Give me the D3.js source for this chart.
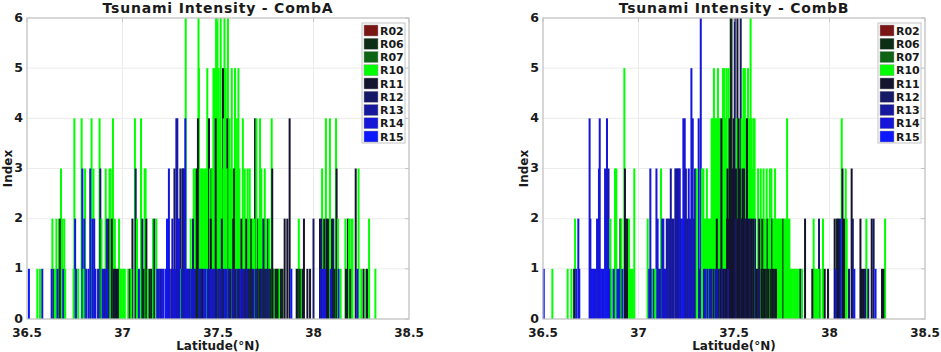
<!DOCTYPE html>
<html>
<head>
<meta charset="utf-8">
<script src="https://cdn.jsdelivr.net/npm/d3@7"></script>
<style>
  body { margin: 0; background: #fff; }
  svg text { font-family: "DejaVu Sans", sans-serif; font-weight: bold; fill: #1a1a1a; }
</style>
</head>
<body>
<svg id="chart" width="941" height="352"></svg>
<script>
// regions shown in the legend
const regions = ["R02", "R06", "R07", "R10", "R11", "R12", "R13", "R14", "R15"];
const regionColors = ["#7a1616", "#0c2e14", "#0e6414", "#00ff00", "#14142e", "#161a66", "#16189e", "#1616da", "#0c18ff"];

const xTicks = [36.5, 37, 37.5, 38, 38.5];
const yTicks = [0, 1, 2, 3, 4, 5, 6];

// [latitude, index, region]
const combA = [
  [36.510,1,"R15"],[36.554,1,"R10"],[36.568,1,"R10"],[36.580,1,"R14"],
  [36.629,1,"R14"],[36.633,2,"R10"],[36.640,1,"R13"],[36.646,1,"R10"],[36.654,2,"R10"],[36.660,1,"R14"],
  [36.668,2,"R10"],[36.672,2,"R06"],[36.678,3,"R10"],[36.684,2,"R10"],[36.690,1,"R14"],[36.695,2,"R10"],[36.700,1,"R10"],
  [36.744,1,"R10"],[36.748,4,"R10"],[36.752,2,"R14"],[36.758,1,"R14"],[36.768,1,"R10"],
  [36.786,4,"R10"],[36.790,3,"R14"],[36.796,1,"R10"],[36.800,2,"R14"],[36.804,3,"R10"],[36.810,1,"R14"],
  [36.822,1,"R14"],[36.831,3,"R14"],[36.838,4,"R10"],[36.843,2,"R14"],[36.848,3,"R10"],[36.852,2,"R14"],[36.858,1,"R14"],
  [36.872,1,"R14"],[36.880,4,"R10"],[36.884,3,"R12"],[36.890,2,"R10"],[36.896,1,"R14"],[36.902,1,"R14"],[36.908,1,"R13"],
  [36.912,3,"R10"],[36.918,2,"R14"],[36.922,1,"R14"],[36.926,2,"R11"],[36.932,3,"R10"],[36.938,3,"R10"],[36.944,2,"R11"],
  [36.950,4,"R10"],[36.955,1,"R11"],[36.960,2,"R10"],[36.964,1,"R11"],[36.970,1,"R11"],[36.976,1,"R11"],[36.982,2,"R10"],
  [36.988,1,"R10"],[36.996,1,"R10"],[37.004,1,"R10"],[37.012,1,"R10"],
  [37.030,1,"R10"],[37.038,1,"R06"],[37.046,1,"R10"],[37.052,2,"R11"],[37.065,4,"R10"],[37.069,3,"R12"],[37.076,2,"R10"],
  [37.086,1,"R14"],[37.097,4,"R10"],[37.104,2,"R12"],[37.110,1,"R06"],[37.116,3,"R10"],[37.121,3,"R10"],[37.125,2,"R11"],
  [37.133,1,"R10"],[37.142,1,"R11"],[37.150,1,"R06"],[37.160,2,"R10"],[37.167,2,"R12"],[37.177,2,"R10"],
  [37.182,1,"R14"],[37.190,1,"R14"],[37.198,1,"R13"],[37.206,1,"R14"],[37.214,1,"R14"],
  [37.226,1,"R15"],[37.233,2,"R15"],[37.236,1,"R14"],[37.243,3,"R14"],[37.247,1,"R14"],[37.256,1,"R13"],[37.261,2,"R14"],
  [37.266,1,"R14"],[37.272,3,"R12"],[37.276,1,"R14"],[37.282,4,"R14"],[37.287,4,"R13"],[37.289,2,"R14"],[37.293,1,"R13"],
  [37.296,2,"R14"],[37.300,1,"R14"],[37.303,3,"R12"],[37.308,1,"R10"],[37.311,1,"R14"],[37.314,3,"R11"],[37.317,3,"R12"],
  [37.320,1,"R13"],[37.324,3,"R14"],[37.329,4,"R14"],[37.331,6,"R10"],[37.337,1,"R14"],[37.341,1,"R14"],[37.346,1,"R14"],
  [37.352,1,"R13"],[37.357,2,"R10"],[37.362,1,"R14"],[37.369,2,"R12"],[37.372,1,"R14"],
  [37.373,3,"R10"],[37.380,1,"R13"],[37.381,3,"R10"],[37.389,3,"R11"],[37.392,1,"R06"],[37.395,4,"R11"],[37.398,6,"R10"],
  [37.400,5,"R10"],[37.403,1,"R14"],[37.405,3,"R10"],[37.410,1,"R13"],[37.413,3,"R10"],[37.418,1,"R11"],[37.421,3,"R10"],
  [37.426,1,"R14"],[37.430,3,"R10"],[37.434,1,"R14"],[37.437,3,"R10"],[37.444,5,"R10"],[37.446,1,"R14"],[37.453,4,"R11"],
  [37.455,1,"R13"],[37.458,3,"R10"],[37.462,2,"R11"],[37.463,1,"R14"],[37.466,3,"R07"],[37.470,3,"R10"],[37.474,1,"R13"],
  [37.476,5,"R10"],[37.481,1,"R14"],[37.482,5,"R10"],[37.488,4,"R11"],[37.490,6,"R10"],[37.493,1,"R12"],[37.497,6,"R10"],
  [37.502,1,"R13"],[37.504,5,"R10"],[37.510,4,"R10"],[37.511,1,"R13"],[37.514,6,"R10"],[37.519,3,"R10"],[37.520,2,"R12"],
  [37.521,1,"R13"],[37.526,5,"R11"],[37.528,1,"R12"],[37.530,4,"R10"],[37.534,6,"R10"],[37.537,1,"R14"],[37.540,5,"R10"],
  [37.544,1,"R14"],[37.545,3,"R10"],[37.549,4,"R11"],[37.552,6,"R10"],[37.556,1,"R13"],[37.560,4,"R10"],[37.563,1,"R12"],
  [37.565,3,"R10"],[37.572,5,"R10"],[37.575,1,"R13"],[37.578,3,"R10"],[37.580,2,"R11"],[37.582,1,"R13"],[37.584,3,"R06"],
  [37.589,5,"R10"],[37.592,1,"R12"],[37.595,3,"R10"],[37.600,4,"R10"],[37.602,1,"R13"],[37.607,5,"R10"],[37.610,1,"R12"],
  [37.612,3,"R10"],[37.618,1,"R14"],[37.622,2,"R06"],[37.626,1,"R13"],[37.630,4,"R10"],[37.636,1,"R13"],[37.640,3,"R10"],
  [37.644,1,"R12"],[37.648,2,"R11"],[37.652,1,"R13"],[37.655,3,"R10"],[37.660,2,"R10"],[37.662,1,"R12"],[37.666,3,"R10"],
  [37.670,1,"R06"],[37.674,2,"R06"],[37.678,1,"R12"],[37.682,2,"R10"],[37.686,1,"R13"],[37.690,2,"R10"],[37.694,4,"R11"],
  [37.698,1,"R13"],[37.701,4,"R10"],[37.706,1,"R12"],[37.710,2,"R11"],[37.714,2,"R10"],[37.716,1,"R06"],[37.720,4,"R10"],
  [37.724,1,"R12"],[37.727,3,"R10"],[37.731,1,"R13"],[37.733,2,"R10"],[37.738,2,"R12"],[37.740,1,"R06"],[37.745,3,"R10"],
  [37.748,1,"R12"],[37.752,2,"R10"],[37.757,1,"R12"],[37.762,2,"R11"],[37.766,1,"R13"],[37.768,2,"R10"],[37.774,1,"R06"],
  [37.781,4,"R10"],[37.784,3,"R11"],[37.790,1,"R11"],[37.796,1,"R10"],[37.802,1,"R11"],[37.808,1,"R06"],[37.815,1,"R11"],
  [37.822,1,"R10"],[37.830,1,"R11"],[37.838,1,"R06"],[37.849,2,"R11"],[37.863,2,"R11"],[37.875,4,"R11"],[37.884,1,"R15"],
  [37.912,1,"R11"],[37.918,1,"R06"],[37.923,2,"R10"],[37.930,1,"R11"],[37.938,1,"R10"],[37.944,1,"R11"],[37.950,2,"R11"],
  [37.968,1,"R11"],[37.982,1,"R11"],[38.000,2,"R12"],
  [38.034,2,"R11"],[38.036,1,"R14"],[38.040,2,"R12"],[38.045,3,"R10"],[38.050,1,"R14"],[38.056,2,"R11"],[38.060,1,"R14"],
  [38.065,4,"R10"],[38.069,2,"R11"],[38.076,2,"R11"],[38.086,4,"R10"],[38.090,1,"R14"],[38.097,2,"R11"],[38.104,2,"R12"],
  [38.110,1,"R06"],[38.118,4,"R10"],[38.121,3,"R11"],[38.128,2,"R10"],[38.132,1,"R14"],[38.142,1,"R10"],
  [38.167,2,"R10"],[38.170,1,"R11"],[38.180,2,"R11"],[38.186,2,"R10"],[38.192,1,"R06"],[38.198,2,"R10"],[38.204,2,"R10"],
  [38.221,3,"R11"],[38.230,1,"R14"],[38.236,3,"R10"],[38.250,1,"R10"],[38.262,1,"R11"],[38.275,1,"R10"],[38.280,1,"R11"],
  [38.291,2,"R10"],[38.324,1,"R10"]
];

const combB = [
  [36.504,1,"R15"],[36.549,1,"R10"],[36.629,1,"R10"],[36.649,1,"R10"],[36.663,1,"R11"],[36.668,2,"R10"],[36.674,1,"R14"],
  [36.685,2,"R14"],[36.690,1,"R14"],
  [36.744,4,"R14"],[36.748,2,"R14"],[36.753,1,"R14"],[36.760,1,"R15"],[36.767,1,"R14"],[36.774,1,"R14"],[36.783,2,"R14"],
  [36.793,3,"R14"],[36.797,4,"R14"],[36.803,1,"R15"],[36.810,1,"R14"],[36.817,1,"R14"],[36.825,3,"R14"],[36.830,1,"R15"],
  [36.835,4,"R14"],[36.839,2,"R14"],[36.843,3,"R13"],[36.848,1,"R14"],
  [36.853,2,"R10"],[36.860,1,"R10"],[36.870,1,"R14"],[36.877,3,"R10"],[36.884,3,"R10"],[36.890,1,"R14"],[36.898,1,"R14"],
  [36.905,2,"R11"],[36.910,2,"R10"],[36.916,1,"R14"],[36.926,5,"R10"],[36.929,3,"R11"],[36.934,2,"R11"],[36.938,1,"R11"],
  [36.942,2,"R11"],[36.950,2,"R10"],[36.956,1,"R10"],[36.963,1,"R10"],[36.970,1,"R10"],[36.978,3,"R10"],
  [37.048,2,"R10"],[37.056,1,"R14"],[37.062,3,"R14"],[37.068,1,"R13"],[37.074,1,"R10"],[37.080,1,"R14"],[37.088,1,"R10"],
  [37.094,3,"R14"],[37.100,2,"R14"],[37.106,1,"R14"],[37.112,1,"R13"],[37.118,3,"R10"],[37.124,2,"R14"],[37.130,2,"R14"],
  [37.136,1,"R13"],[37.142,1,"R14"],[37.148,2,"R13"],
  [37.154,2,"R13"],[37.162,2,"R13"],[37.169,3,"R13"],[37.176,2,"R13"],[37.184,2,"R13"],[37.193,3,"R13"],[37.199,3,"R13"],
  [37.205,3,"R13"],[37.211,3,"R13"],[37.216,3,"R14"],[37.222,2,"R13"],[37.229,2,"R15"],[37.235,4,"R14"],[37.242,4,"R14"],
  [37.248,3,"R13"],[37.255,2,"R13"],[37.263,3,"R14"],[37.270,2,"R13"],[37.277,5,"R14"],[37.284,4,"R14"],[37.290,2,"R13"],
  [37.296,3,"R13"],[37.305,3,"R10"],[37.315,4,"R14"],[37.320,1,"R13"],[37.326,6,"R14"],[37.332,3,"R10"],[37.340,3,"R10"],
  [37.343,1,"R13"],[37.345,2,"R10"],[37.350,1,"R14"],[37.352,2,"R10"],[37.358,3,"R10"],[37.361,1,"R13"],[37.364,2,"R10"],
  [37.370,2,"R10"],[37.373,1,"R14"],[37.376,2,"R10"],[37.380,1,"R13"],[37.383,4,"R10"],[37.389,4,"R10"],[37.392,1,"R12"],
  [37.395,5,"R10"],[37.400,4,"R10"],[37.403,1,"R13"],[37.406,4,"R10"],[37.410,2,"R11"],[37.413,1,"R14"],[37.416,5,"R10"],
  [37.420,1,"R12"],[37.422,4,"R10"],[37.428,4,"R10"],[37.430,1,"R11"],[37.434,4,"R11"],[37.438,1,"R13"],[37.442,5,"R10"],
  [37.447,1,"R11"],[37.450,5,"R10"],[37.454,1,"R12"],[37.456,4,"R10"],[37.460,1,"R11"],[37.462,5,"R10"],[37.464,2,"R11"],
  [37.466,3,"R11"],[37.470,1,"R13"],[37.472,5,"R10"],[37.474,2,"R11"],[37.477,4,"R11"],[37.480,1,"R11"],[37.483,6,"R11"],
  [37.487,6,"R06"],[37.490,2,"R11"],[37.492,3,"R11"],[37.498,4,"R11"],[37.500,2,"R11"],[37.504,6,"R12"],[37.508,2,"R12"],
  [37.510,3,"R11"],[37.514,4,"R10"],[37.518,6,"R11"],[37.521,2,"R11"],[37.524,4,"R11"],[37.527,2,"R11"],[37.530,3,"R11"],
  [37.535,6,"R12"],[37.538,2,"R12"],[37.540,4,"R10"],[37.543,2,"R11"],[37.545,3,"R11"],[37.549,5,"R10"],[37.551,2,"R11"],
  [37.553,3,"R11"],[37.557,5,"R10"],[37.560,2,"R12"],[37.563,4,"R10"],[37.566,2,"R11"],[37.568,4,"R11"],[37.573,5,"R10"],
  [37.575,2,"R11"],[37.580,4,"R10"],[37.583,2,"R12"],[37.587,6,"R10"],[37.590,2,"R11"],[37.592,4,"R10"],[37.598,3,"R10"],
  [37.600,2,"R11"],[37.603,4,"R10"],[37.608,4,"R10"],[37.611,2,"R12"],
  [37.620,1,"R11"],[37.626,3,"R10"],[37.630,1,"R12"],[37.632,2,"R11"],[37.640,3,"R10"],[37.644,1,"R11"],[37.648,2,"R06"],
  [37.652,1,"R06"],[37.655,3,"R10"],[37.660,1,"R11"],[37.662,2,"R10"],[37.668,1,"R06"],[37.671,3,"R10"],[37.676,2,"R11"],
  [37.680,1,"R11"],[37.682,2,"R10"],[37.688,3,"R10"],[37.692,1,"R06"],[37.696,3,"R10"],[37.700,2,"R11"],[37.704,1,"R11"],
  [37.706,2,"R10"],[37.712,1,"R06"],[37.715,3,"R10"],[37.720,1,"R11"],[37.722,2,"R10"],[37.728,2,"R10"],[37.732,1,"R10"],
  [37.734,2,"R10"],[37.740,2,"R10"],[37.746,2,"R10"],[37.752,2,"R10"],[37.758,2,"R06"],[37.764,2,"R10"],[37.770,2,"R10"],
  [37.778,4,"R10"],[37.783,2,"R10"],[37.790,2,"R10"],[37.795,1,"R10"],[37.802,1,"R10"],[37.810,1,"R10"],[37.818,1,"R10"],
  [37.826,1,"R10"],[37.834,1,"R10"],[37.842,1,"R10"],
  [37.848,1,"R12"],[37.856,1,"R10"],[37.872,2,"R11"],[37.910,1,"R11"],[37.917,2,"R10"],[37.924,1,"R10"],[37.932,1,"R10"],
  [37.940,1,"R10"],[37.945,2,"R12"],[37.952,1,"R10"],[37.966,2,"R10"],[37.975,1,"R11"],[37.992,1,"R11"],
  [38.027,2,"R11"],[38.032,1,"R14"],[38.038,2,"R06"],[38.044,2,"R11"],[38.050,2,"R11"],[38.058,2,"R14"],[38.064,4,"R10"],
  [38.068,3,"R11"],[38.076,2,"R11"],[38.085,3,"R10"],[38.090,2,"R10"],[38.102,1,"R12"],[38.116,3,"R11"],[38.122,2,"R12"],
  [38.130,1,"R15"],[38.162,2,"R11"],[38.170,1,"R11"],[38.180,1,"R11"],[38.186,1,"R12"],[38.193,2,"R10"],[38.203,1,"R12"],
  [38.221,2,"R11"],[38.231,2,"R12"],[38.241,1,"R15"],[38.275,1,"R11"],[38.282,1,"R11"],[38.291,2,"R10"]
];

const barWidthDeg = 0.0105;
const color = d3.scaleOrdinal().domain(regions).range(regionColors);
const svg = d3.select("#chart");

function drawPanel(data, title, left, right) {
    const top = 18, bottom = 319;
    const x = d3.scaleLinear().domain([36.5, 38.5]).range([left, right]);
    const y = d3.scaleLinear().domain([0, 6]).range([bottom, top]);
    const g = svg.append("g");

    // grid
    g.selectAll(".gx").data(xTicks).enter().append("line")
        .attr("x1", d => x(d)).attr("x2", d => x(d))
        .attr("y1", top).attr("y2", bottom)
        .attr("stroke", "#ebebeb").attr("stroke-width", 1);
    g.selectAll(".gy").data(yTicks).enter().append("line")
        .attr("x1", left).attr("x2", right)
        .attr("y1", d => y(d)).attr("y2", d => y(d))
        .attr("stroke", "#ebebeb").attr("stroke-width", 1);

    // bars, tallest first so shorter ones sit on top
    const sorted = data.slice().sort((a, b) => b[1] - a[1]);
    g.selectAll(".bar").data(sorted).enter().append("rect")
        .attr("x", d => x(d[0]) - (x(d[0] + barWidthDeg) - x(d[0])) / 2)
        .attr("width", d => x(d[0] + barWidthDeg) - x(d[0]))
        .attr("y", d => y(d[1]))
        .attr("height", d => y(0) - y(d[1]))
        .attr("fill", d => color(d[2]));

    // frame and tick marks
    g.append("rect")
        .attr("x", left).attr("y", top)
        .attr("width", right - left).attr("height", bottom - top)
        .attr("fill", "none").attr("stroke", "#c4c4c4").attr("stroke-width", 1.2);
    g.selectAll(".tx").data(xTicks).enter().append("line")
        .attr("x1", d => x(d)).attr("x2", d => x(d))
        .attr("y1", top).attr("y2", top + 4)
        .attr("stroke", "#c4c4c4");
    g.selectAll(".ty").data(yTicks).enter().append("line")
        .attr("x1", right - 4).attr("x2", right)
        .attr("y1", d => y(d)).attr("y2", d => y(d))
        .attr("stroke", "#c4c4c4");

    // tick labels
    g.selectAll(".lx").data(xTicks).enter().append("text")
        .attr("x", d => x(d)).attr("y", 336.5)
        .attr("text-anchor", "middle")
        .style("font-size", "12px")
        .text(d => d);
    g.selectAll(".ly").data(yTicks).enter().append("text")
        .attr("x", left - 4).attr("y", d => y(d) + 3.5)
        .attr("text-anchor", "end")
        .style("font-size", "12.5px")
        .text(d => d);

    // titles
    g.append("text")
        .attr("x", (left + right) / 2).attr("y", 13)
        .attr("text-anchor", "middle")
        .style("font-size", "14px")
        .style("letter-spacing", "0.8px")
        .text(title);
    g.append("text")
        .attr("x", (left + right) / 2).attr("y", 349.5)
        .attr("text-anchor", "middle")
        .style("font-size", "12px")
        .text("Latitude(°N)");
    g.append("text")
        .attr("transform", "translate(" + (left - 15) + "," + ((top + bottom) / 2) + ") rotate(-90)")
        .attr("text-anchor", "middle")
        .style("font-size", "12px")
        .text("Index");

    // legend
    const lx = right - 47, ly = 23, step = 13.25;
    g.append("rect")
        .attr("x", lx).attr("y", ly)
        .attr("width", 43).attr("height", 120)
        .attr("fill", "#fff").attr("stroke", "#c4c4c4").attr("stroke-width", 1);
    const item = g.selectAll(".leg").data(regions).enter().append("g")
        .attr("transform", (d, i) => "translate(" + (lx + 2) + "," + (ly + 2 + i * step) + ")");
    item.append("rect")
        .attr("width", 14).attr("height", 11)
        .attr("fill", d => color(d))
        .attr("stroke", "#9a9a9a").attr("stroke-width", 0.5);
    item.append("text")
        .attr("x", 16).attr("y", 9.5)
        .style("font-size", "11px")
        .text(d => d);
}

drawPanel(combA, "Tsunami Intensity - CombA", 27, 409);
drawPanel(combB, "Tsunami Intensity - CombB", 543, 925);
</script>
</body>
</html>
